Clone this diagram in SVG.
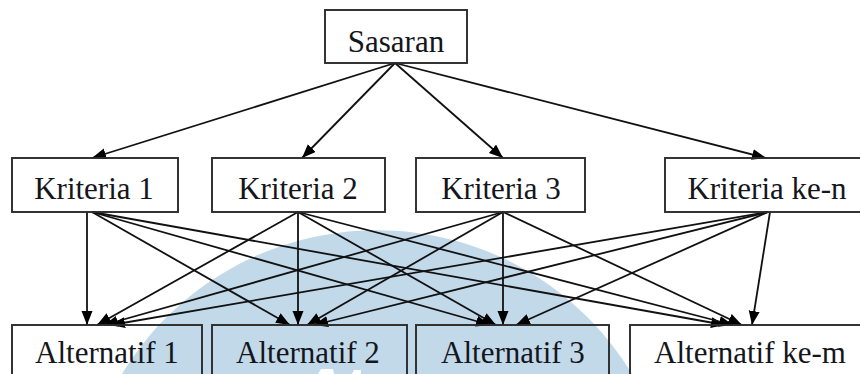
<svg xmlns="http://www.w3.org/2000/svg" width="860" height="374" viewBox="0 0 860 374">
  <defs>
    <style>
      .box { fill: none; stroke: #2b2b2b; stroke-width: 1.9; }
      .lbl { font-family: "Liberation Serif", "Times New Roman", serif; font-size: 31px; fill: #15151c; text-anchor: middle; }
      .edge { stroke: #111; stroke-width: 1.8; fill: none; marker-end: url(#arrow); }
    </style>
    <marker id="arrow" markerUnits="userSpaceOnUse" markerWidth="15" markerHeight="12" refX="14" refY="5.5" orient="auto">
      <path d="M0,0 L14,5.5 L0,11 z" fill="#000"/>
    </marker>
  </defs>
  <rect width="860" height="374" fill="#ffffff"/>
  <g id="watermark">
    <path d="M122,374 A298,298 0 0 1 632,374 Z" fill="#c2d9ea"/>
    <path d="M318,374 L321,369 L333,369 L334,374 Z" fill="#ffffff"/>
    <path d="M352,374 L354,370 L361,370 L361,374 Z" fill="#ffffff"/>
  </g>
  <g id="connectors">
    <line class="edge" x1="395" y1="63" x2="92" y2="158"/>
    <line class="edge" x1="395" y1="63" x2="302" y2="158"/>
    <line class="edge" x1="395" y1="63" x2="503" y2="158"/>
    <line class="edge" x1="395" y1="63" x2="766" y2="158"/>

    <line class="edge" x1="87" y1="212" x2="87" y2="325"/>
    <line class="edge" x1="92" y1="212" x2="290" y2="325"/>
    <line class="edge" x1="92" y1="212" x2="490" y2="325"/>
    <line class="edge" x1="92" y1="212" x2="725" y2="325"/>

    <line class="edge" x1="298" y1="212" x2="97" y2="325"/>
    <line class="edge" x1="298" y1="212" x2="298" y2="325"/>
    <line class="edge" x1="298" y1="212" x2="496" y2="325"/>
    <line class="edge" x1="298" y1="212" x2="733" y2="325"/>

    <line class="edge" x1="503" y1="212" x2="104" y2="325"/>
    <line class="edge" x1="503" y1="212" x2="307" y2="325"/>
    <line class="edge" x1="503" y1="212" x2="503" y2="325"/>
    <line class="edge" x1="503" y1="212" x2="742" y2="325"/>

    <line class="edge" x1="768" y1="212" x2="111" y2="325"/>
    <line class="edge" x1="768" y1="212" x2="314" y2="325"/>
    <line class="edge" x1="768" y1="212" x2="516" y2="325"/>
    <line class="edge" x1="770" y1="212" x2="752" y2="325"/>
  </g>
  <g id="sasaran">
    <rect class="box" x="325" y="10" width="142" height="53"/>
    <text class="lbl" x="396" y="52">Sasaran</text>
  </g>
  <g id="kriteria1">
    <rect class="box" x="12" y="158" width="166" height="54"/>
    <text class="lbl" x="94" y="199">Kriteria 1</text>
  </g>
  <g id="kriteria2">
    <rect class="box" x="212" y="158" width="173" height="54"/>
    <text class="lbl" x="298" y="199">Kriteria 2</text>
  </g>
  <g id="kriteria3">
    <rect class="box" x="416" y="158" width="169" height="54"/>
    <text class="lbl" x="501" y="199">Kriteria 3</text>
  </g>
  <g id="kriteria-n">
    <rect class="box" x="665" y="158" width="205" height="54"/>
    <text class="lbl" x="767" y="199">Kriteria ke-n</text>
  </g>
  <g id="alternatif1">
    <rect class="box" x="12" y="325" width="190" height="60"/>
    <text class="lbl" x="107" y="363">Alternatif 1</text>
  </g>
  <g id="alternatif2">
    <rect class="box" x="212" y="325" width="195" height="60"/>
    <text class="lbl" x="308" y="363">Alternatif 2</text>
  </g>
  <g id="alternatif3">
    <rect class="box" x="416" y="325" width="193" height="60"/>
    <text class="lbl" x="513" y="363">Alternatif 3</text>
  </g>
  <g id="alternatif-m">
    <rect class="box" x="630" y="325" width="240" height="60"/>
    <text class="lbl" x="750" y="363">Alternatif ke-m</text>
  </g>
</svg>
